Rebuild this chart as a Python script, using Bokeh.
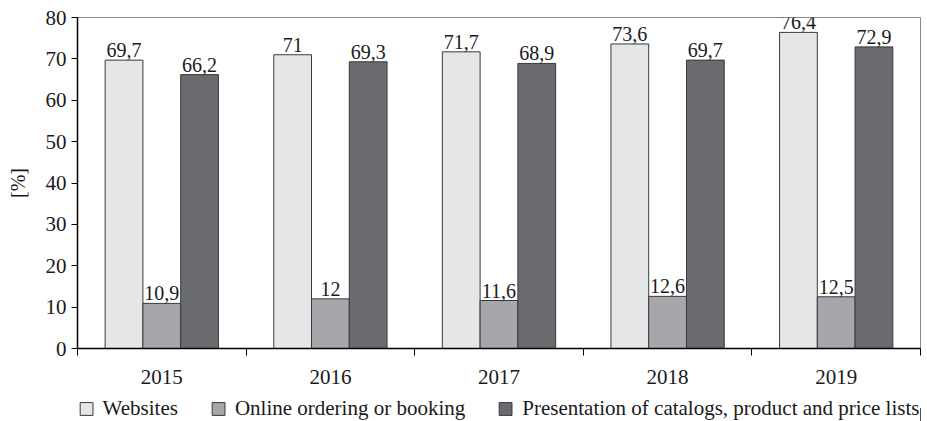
from bokeh.plotting import figure
from bokeh.layouts import column
from bokeh.models import (ColumnDataSource, FixedTicker, Legend, LegendItem,
                          LabelSet, Range1d)
from bokeh.embed import file_html
from bokeh.resources import INLINE

years = ["2015", "2016", "2017", "2018", "2019"]
websites = [69.7, 71, 71.7, 73.6, 76.4]
online = [10.9, 12, 11.6, 12.6, 12.5]
presentation = [66.2, 69.3, 68.9, 69.7, 72.9]
series_names = ["Websites", "Online ordering or booking",
                "Presentation of catalogs, product and price lists"]
colors = ["#e5e6e8", "#a6a7aa", "#6a6b6f"]

FONT = "Liberation Serif"

p = figure(frame_width=843, frame_height=331, output_backend="svg", toolbar_location=None,
           x_range=Range1d(0, 5), y_range=Range1d(0, 80),
           min_border_left=77, min_border_right=7, min_border_top=17,
           min_border_bottom=46)
p.grid.visible = False
p.outline_line_color = "#8a8a8a"
p.outline_line_width = 1
p.background_fill_color = "white"
p.border_fill_color = "white"

bw = 0.224
offsets = [-bw, 0, bw]
for vals, off, col in zip([websites, online, presentation], offsets, colors):
    fmt = [str(v).replace(".", ",") if v != int(v) else str(int(v)) for v in vals]
    src = ColumnDataSource(dict(x=[i + 0.5 + off for i in range(len(years))],
                                top=vals, lab=fmt))
    p.vbar(x="x", top="top", width=bw, bottom=0, source=src,
           fill_color=col, line_color="#3a3a3a", line_width=1)
    lbl = LabelSet(x="x", y="top", text="lab", source=src, text_align="center",
                   text_baseline="alphabetic", y_offset=3, text_font=FONT,
                   text_font_size="20px", text_color="#1a1a1a")
    p.add_layout(lbl)

# x axis: labels at category centers, tick marks at category boundaries
p.xaxis.ticker = FixedTicker(ticks=[i + 0.5 for i in range(len(years))],
                             minor_ticks=list(range(len(years) + 1)))
p.xaxis.major_label_overrides = {i + 0.5: y for i, y in enumerate(years)}
p.xaxis.major_tick_line_color = None
p.xaxis.major_tick_out = 4
p.xaxis.minor_tick_line_color = "black"
p.xaxis.minor_tick_out = 7
p.xaxis.minor_tick_in = 0
p.xaxis.axis_line_color = "black"
p.xaxis.axis_line_width = 1.5
p.xaxis.major_label_text_font = FONT
p.xaxis.major_label_text_font_size = "21px"
p.xaxis.major_label_text_color = "#1a1a1a"
p.xaxis.major_label_standoff = 14

p.yaxis.ticker = FixedTicker(ticks=list(range(0, 81, 10)))
p.yaxis.minor_tick_line_color = None
p.yaxis.major_tick_out = 6
p.yaxis.major_tick_in = 0
p.yaxis.axis_line_color = "black"
p.yaxis.axis_line_width = 1.5
p.yaxis.major_label_text_font = FONT
p.yaxis.major_label_text_font_size = "21px"
p.yaxis.major_label_text_color = "#1a1a1a"
p.yaxis.axis_label = "[%]"
p.yaxis.axis_label_text_font = FONT
p.yaxis.axis_label_text_font_size = "20px"
p.yaxis.axis_label_text_font_style = "normal"
p.yaxis.axis_label_text_color = "#1a1a1a"
p.yaxis.axis_label_standoff = 14

# legend strip below the chart
p2 = figure(width=927, height=28, output_backend="svg", toolbar_location=None,
            x_range=Range1d(0, 1), y_range=Range1d(0, 1),
            min_border=0, min_border_left=61)
p2.axis.visible = False
p2.grid.visible = False
p2.outline_line_color = None
items = []
for col, name in zip(colors, series_names):
    r = p2.vbar(x=[5], top=[0.5], width=0.1, fill_color=col,
                line_color="#3a3a3a", line_width=1)
    items.append(LegendItem(label=name, renderers=[r]))
legend = Legend(items=items, orientation="horizontal", location="center",
                label_text_font=FONT, label_text_font_size="21px",
                label_text_color="#1a1a1a", glyph_width=16, glyph_height=16,
                spacing=32, label_standoff=9, border_line_color=None,
                background_fill_alpha=0, padding=0, margin=0, label_height=22)
p2.add_layout(legend, "center")

open("out.html", "w").write(file_html(column(p, p2, spacing=0), INLINE))
